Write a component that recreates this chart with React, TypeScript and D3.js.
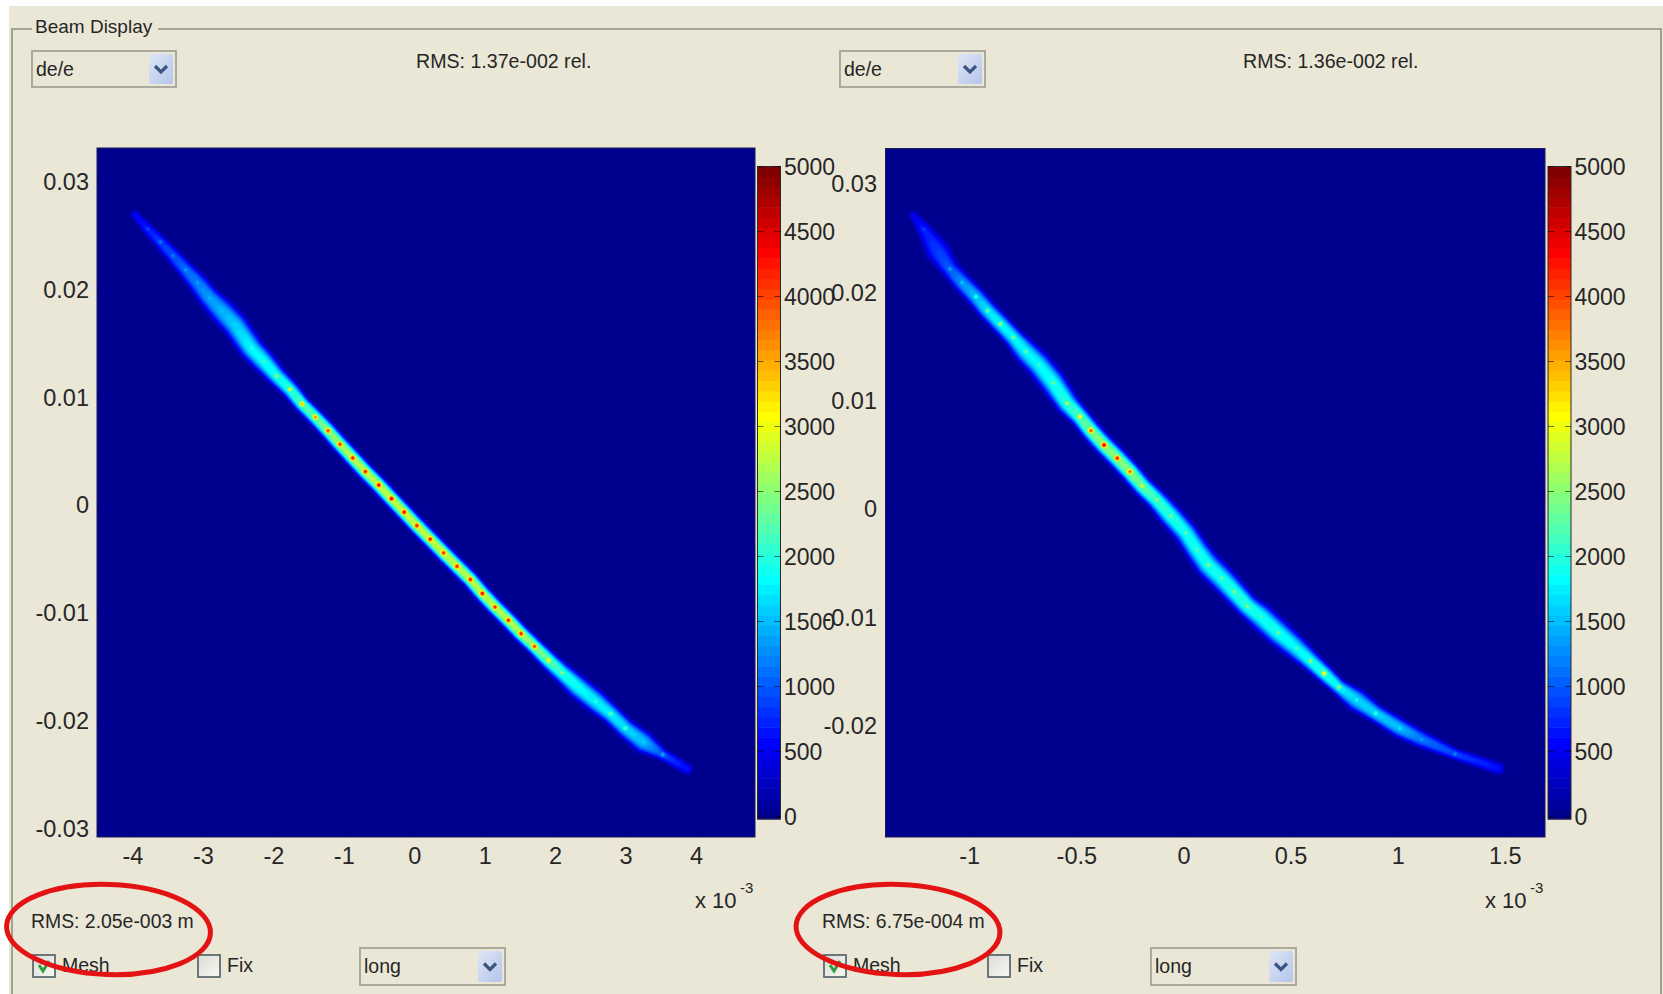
import React, { useMemo } from "react";
import * as d3 from "d3";

// ---------- data ----------
const leftBeamX = [-3.97,-3.79,-3.61,-3.43,-3.25,-3.08,-2.91,-2.73,-2.55,-2.32,-2.14,-1.96,-1.77,-1.60,-1.41,-1.23,-1.06,-0.88,-0.70,-0.51,-0.33,-0.15,0.03,0.22,0.41,0.60,0.79,0.96,1.14,1.33,1.51,1.70,1.90,2.09,2.32,2.57,2.78,2.99,3.25,3.52,3.87];
const leftBeamY = [26.92,25.59,24.38,23.11,21.81,20.58,19.18,17.96,16.70,14.54,13.29,11.96,10.73,9.36,8.13,6.88,5.62,4.35,3.09,1.84,0.58,-0.67,-1.92,-3.18,-4.45,-5.69,-6.92,-8.22,-9.47,-10.70,-11.94,-13.12,-14.42,-15.56,-16.90,-18.23,-19.37,-20.71,-22.01,-23.15,-24.48];
const leftBand = [550,700,850,950,1100,1200,1350,1450,1600,1800,1850,1900,2000,2200,2300,2500,2600,2700,2700,2750,2750,2750,2750,2750,2750,2700,2700,2700,2700,2700,2650,2500,2300,2000,1850,1750,1750,1650,1500,950,600];
const leftPeak = [600,1000,1250,1300,1500,1500,1600,1650,1750,2200,2400,2800,3100,3600,3900,4300,4400,4500,4500,4600,4700,4600,4500,4500,4400,4500,4500,4600,4400,4500,4500,4300,3300,2700,2200,2300,2500,2400,1800,1500,750];
const leftSpread = [.054,.077,.086,.096,.105,.124,.135,.154,.154,.144,.135,.115,.105,.096,.096,.096,.096,.096,.096,.096,.096,.096,.096,.096,.096,.096,.096,.096,.096,.096,.096,.096,.105,.115,.135,.135,.115,.115,.135,.077,.077];

const rightBeamX = [-1.264,-1.214,-1.152,-1.092,-1.035,-0.971,-0.916,-0.856,-0.797,-0.738,-0.676,-0.610,-0.545,-0.486,-0.434,-0.373,-0.311,-0.252,-0.195,-0.127,-0.061,0.009,0.061,0.113,0.176,0.235,0.296,0.359,0.440,0.526,0.591,0.654,0.724,0.806,0.895,1.008,1.110,1.265,1.466];
const rightBeamY = [27.12,25.80,23.89,22.14,20.88,19.58,18.29,17.07,15.84,14.51,13.28,11.65,9.75,8.51,7.22,5.90,4.68,3.44,2.12,0.83,-0.65,-2.21,-3.78,-5.17,-6.39,-7.63,-8.95,-9.94,-11.41,-12.85,-14.02,-15.16,-16.45,-17.62,-18.85,-20.23,-21.25,-22.60,-23.92];
const rightBand = [500,700,850,1000,1300,1500,1700,1800,1800,1800,1800,1900,2000,2200,2400,2500,2500,2500,2300,2100,2000,1900,1900,1900,1900,2000,2000,1900,1900,1800,1900,2000,1800,1600,1600,1500,1150,900,650];
const rightPeak = [500,950,900,1500,1700,2200,2500,2800,2600,2500,2400,2600,2900,3300,4200,4700,4500,4100,3200,2700,2600,2500,2500,2700,2600,2700,2700,2400,2600,2500,2800,3300,2800,2100,2300,1900,1500,1300,700];
const rightSpread = [.019,.031,.052,.038,.038,.038,.038,.038,.038,.047,.05,.05,.045,.038,.038,.038,.038,.038,.038,.04,.045,.045,.047,.05,.05,.047,.045,.05,.05,.045,.038,.035,.031,.045,.035,.038,.035,.024,.028];

const leftXTicks = [-4,-3,-2,-1,0,1,2,3,4];
const leftYTicks = [0.03,0.02,0.01,0,-0.01,-0.02,-0.03];
const rightXTicks = [-1,-0.5,0,0.5,1,1.5];
const rightYTicks = [0.03,0.02,0.01,0,-0.01,-0.02];
const colorTicks = [0,500,1000,1500,2000,2500,3000,3500,4000,4500,5000];

const FONT = "'Liberation Sans', Arial, sans-serif";
const INK = "#262626";
const BG = "#EAE7D7";

function jet(i: number) {
  const x = (i + 1) / 64;
  const c = (v: number) => Math.round(255 * Math.max(0, Math.min(1, v)));
  return d3.rgb(
    c(Math.min(4 * x - 1.5, -4 * x + 4.5)),
    c(Math.min(4 * x - 0.5, -4 * x + 3.5)),
    c(Math.min(4 * x + 0.5, -4 * x + 2.5))
  ).formatHex();
}

function beamField(bx: number[], by: number[], band: number[], peak: number[], wd: number[], n: number, m: number, step: number) {
  const field = new Float64Array(n * m);
  for (let k = 0; k < bx.length - 1; k++) {
    const maxW = Math.max(wd[k], wd[k + 1]) * 2.2;
    const i0 = Math.max(0, Math.floor((Math.min(bx[k], bx[k + 1]) - maxW) / step));
    const i1 = Math.min(n - 1, Math.ceil((Math.max(bx[k], bx[k + 1]) + maxW) / step));
    const j0 = Math.max(0, Math.floor((Math.min(by[k], by[k + 1]) - maxW) / step));
    const j1 = Math.min(m - 1, Math.ceil((Math.max(by[k], by[k + 1]) + maxW) / step));
    const dx = bx[k + 1] - bx[k], dy = by[k + 1] - by[k], len2 = dx * dx + dy * dy;
    for (let j = j0; j <= j1; j++) for (let i = i0; i <= i1; i++) {
      const px = (i + 0.5) * step, py = (j + 0.5) * step;
      const t = Math.max(0, Math.min(1, ((px - bx[k]) * dx + (py - by[k]) * dy) / len2));
      const d = Math.hypot(px - bx[k] - t * dx, py - by[k] - t * dy);
      const w = wd[k] + t * (wd[k + 1] - wd[k]);
      const b = band[k] + t * (band[k + 1] - band[k]);
      const v = b * Math.exp(-Math.pow(d / w, 3));
      if (v > field[j * n + i]) field[j * n + i] = v;
    }
  }
  const sigma = 2.9;
  for (let k = 0; k < bx.length; k++) {
    const i0 = Math.max(0, Math.floor((bx[k] - 12) / step)), i1 = Math.min(n - 1, Math.ceil((bx[k] + 12) / step));
    const j0 = Math.max(0, Math.floor((by[k] - 12) / step)), j1 = Math.min(m - 1, Math.ceil((by[k] + 12) / step));
    for (let j = j0; j <= j1; j++) for (let i = i0; i <= i1; i++) {
      const px = (i + 0.5) * step - bx[k], py = (j + 0.5) * step - by[k];
      const v = peak[k] * Math.exp(-(px * px + py * py) / (2 * sigma * sigma));
      if (v > field[j * n + i]) field[j * n + i] = v;
    }
  }
  return field;
}

type PanelProps = {
  rect: [number, number, number, number];
  xDomain: [number, number];
  yDomain: [number, number];
  beamX: number[]; beamY: number[]; band: number[]; peak: number[]; spread: number[];
  xTicks: number[]; yTicks: number[];
  cbX: number; yLabelRight: number; expX: number;
};

function HeatPanel(p: PanelProps) {
  const [x0, y0, x1, y1] = p.rect;
  const x = d3.scaleLinear().domain(p.xDomain).range([x0, x1]);
  const y = d3.scaleLinear().domain(p.yDomain).range([y1, y0]);
  const cb = d3.scaleLinear().domain([0, 5000]).range([816.5, 166.5]);
  const paths = useMemo(() => {
    const step = 1.5;
    const n = Math.ceil((x1 - x0) / step), m = Math.ceil((y1 - y0) / step);
    const bx = p.beamX.map((v) => x(v) - x0);
    const by = p.beamY.map((v) => y(v / 1000) - y0);
    const wd = p.spread.map((v) => Math.abs(x(v) - x(0)));
    const field = beamField(bx, by, p.band, p.peak, wd, n, m, step);
    const levels = d3.range(1, 64).map((i) => (i * 5000) / 64);
    const contours = d3.contours().size([n, m]).smooth(true).thresholds(levels)(Array.from(field));
    const path = d3.geoPath(d3.geoIdentity().scale(step).translate([x0, y0]) as any);
    return contours.map((c, i) => ({ d: path(c as any) || "", fill: jet(i + 1) })).filter((c) => c.d);
  }, []);
  const barTop = cb(5000), barBot = cb(0) + 2.5, cellH = (barBot - barTop) / 64;
  return (
    <g>
      <rect x={x0} y={y0} width={x1 - x0} height={y1 - y0} fill={jet(0)} />
      {paths.map((c, i) => <path key={i} d={c.d} fill={c.fill} />)}
      <rect x={x0} y={y0} width={x1 - x0} height={y1 - y0} fill="none" stroke="#1c1c50" strokeWidth={1} />
      {p.xTicks.map((t) => (
        <g key={t}>
          <line x1={x(t)} x2={x(t)} y1={y1} y2={y1 - 6} stroke="#00006c" />
          <text x={x(t)} y={864} textAnchor="middle" fontSize={23.5} fill={INK} fontFamily={FONT}>{String(t)}</text>
        </g>
      ))}
      {p.yTicks.map((t) => (
        <g key={t}>
          <line x1={x0} x2={x0 + 6} y1={y(t)} y2={y(t)} stroke="#00006c" />
          <text x={p.yLabelRight} y={y(t) + 8.5} textAnchor="end" fontSize={23.5} fill={INK} fontFamily={FONT}>{String(t)}</text>
        </g>
      ))}
      {d3.range(64).map((i) => (
        <rect key={i} x={p.cbX} y={barBot - (i + 1) * cellH} width={23} height={cellH + 0.5} fill={jet(i)} />
      ))}
      <rect x={p.cbX} y={barTop} width={23} height={barBot - barTop} fill="none" stroke="#2a2a2a" strokeWidth={1} />
      {colorTicks.map((t) => (
        <g key={t}>
          <line x1={p.cbX} x2={p.cbX + 6} y1={cb(t)} y2={cb(t)} stroke="#000" strokeOpacity={0.55} />
          <line x1={p.cbX + 17} x2={p.cbX + 23} y1={cb(t)} y2={cb(t)} stroke="#000" strokeOpacity={0.55} />
          <text x={p.cbX + 26.5} y={cb(t) + 8} fontSize={23} fill={INK} fontFamily={FONT}>{String(t)}</text>
        </g>
      ))}
      <text x={p.expX} y={908} fontSize={22} fill={INK} fontFamily={FONT}>x 10</text>
      <text x={p.expX + 45} y={893} fontSize={15} fill={INK} fontFamily={FONT}>-3</text>
    </g>
  );
}

function Dropdown({ x, y, w, h, label }: { x: number; y: number; w: number; h: number; label: string }) {
  const bx = x + w - 27;
  return (
    <g>
      <rect x={x} y={y} width={w} height={h} fill={BG} stroke="#a3a398" strokeWidth={1.8} />
      <rect x={bx} y={y + 3} width={24} height={h - 6} rx={2} fill="url(#btn)" />
      <path d={`M${bx + 6},${y + h / 2 - 3} L${bx + 12},${y + h / 2 + 3} L${bx + 18},${y + h / 2 - 3}`} fill="none" stroke="#3b5583" strokeWidth={3.2} />
      <text x={x + 4} y={y + h / 2 + 6.5} fontSize={19.5} fill={INK} fontFamily={FONT}>{label}</text>
    </g>
  );
}

function Checkbox({ x, y, label, checked }: { x: number; y: number; label: string; checked?: boolean }) {
  return (
    <g>
      <rect x={x} y={y} width={22} height={22} fill="url(#box)" stroke="#5d6b6f" strokeWidth={1.8} />
      {checked && <path d={`M${x + 6},${y + 10} L${x + 10},${y + 16} L${x + 16},${y + 6}`} fill="none" stroke="#2f9e3e" strokeWidth={3} />}
      <text x={x + 29} y={y + 17} fontSize={19.5} fill={INK} fontFamily={FONT}>{label}</text>
    </g>
  );
}

export default function App() {
  return (
    <svg width={1663} height={994} style={{ position: "fixed", left: 0, top: 0, background: "#fff" }}>
      <defs>
        <linearGradient id="btn" x1="0" x2="1" y1="0" y2="1">
          <stop offset="0" stopColor="#dfe6f5" />
          <stop offset="1" stopColor="#b4c5ea" />
        </linearGradient>
        <linearGradient id="box" x1="0" x2="1" y1="0" y2="1">
          <stop offset="0" stopColor="#dcdcd6" />
          <stop offset="1" stopColor="#f8f8f4" />
        </linearGradient>
      </defs>
      <rect x={9} y={6} width={1654} height={988} fill={BG} />
      <path d="M12,994 V29 H32 M158,29 H1661 V994" fill="none" stroke="#8f8f86" strokeWidth={1.6} />
      <text x={35} y={33} fontSize={19} fill={INK} fontFamily={FONT}>Beam Display</text>

      <Dropdown x={32} y={51} w={144} h={36} label="de/e" />
      <Dropdown x={840} y={51} w={145} h={36} label="de/e" />
      <text x={416} y={68} fontSize={19.6} fill={INK} fontFamily={FONT}>RMS: 1.37e-002 rel.</text>
      <text x={1243} y={68} fontSize={19.6} fill={INK} fontFamily={FONT}>RMS: 1.36e-002 rel.</text>

      <HeatPanel rect={[97, 148, 755, 837]} xDomain={[-4.51, 4.83]} yDomain={[-0.0308, 0.0331]}
        beamX={leftBeamX} beamY={leftBeamY} band={leftBand} peak={leftPeak} spread={leftSpread}
        xTicks={leftXTicks} yTicks={leftYTicks} cbX={757.5} yLabelRight={89} expX={695} />
      <HeatPanel rect={[885.5, 148.5, 1545, 837]} xDomain={[-1.393, 1.685]} yDomain={[-0.03026, 0.03325]}
        beamX={rightBeamX} beamY={rightBeamY} band={rightBand} peak={rightPeak} spread={rightSpread}
        xTicks={rightXTicks} yTicks={rightYTicks} cbX={1548} yLabelRight={877} expX={1485} />

      <text x={31} y={928} fontSize={19.4} fill={INK} fontFamily={FONT}>RMS: 2.05e-003 m</text>
      <text x={822} y={928} fontSize={19.4} fill={INK} fontFamily={FONT}>RMS: 6.75e-004 m</text>

      <Checkbox x={33} y={955} label="Mesh" checked />
      <Checkbox x={198} y={955} label="Fix" />
      <Dropdown x={360} y={948} w={145} h={37} label="long" />
      <Checkbox x={824} y={955} label="Mesh" checked />
      <Checkbox x={988} y={955} label="Fix" />
      <Dropdown x={1151} y={948} w={145} h={37} label="long" />

      <ellipse cx={108.5} cy={929.5} rx={102} ry={45} fill="none" stroke="#e31313" strokeWidth={5} transform="rotate(2 108.5 929.5)" />
      <ellipse cx={898} cy={929.5} rx={102} ry={45} fill="none" stroke="#e31313" strokeWidth={5} transform="rotate(2 898 929.5)" />
    </svg>
  );
}
